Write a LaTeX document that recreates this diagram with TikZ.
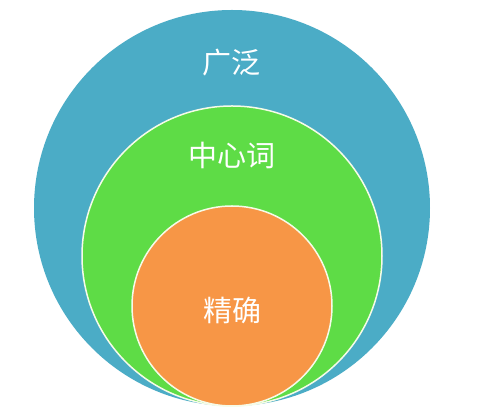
\documentclass[tikz,border=0pt]{standalone}
\usepackage{fontspec}
\usepackage{tikz}
\newfontfamily\cjk{Noto Sans CJK SC}
\definecolor{wideblue}{HTML}{4BACC6}
\definecolor{midgreen}{HTML}{5EDC46}
\definecolor{exactorange}{HTML}{F79646}
\definecolor{rimwhite}{HTML}{F6FBE8}
\begin{document}
\begin{tikzpicture}[x=1pt,y=1pt]
          \tikzstyle{ring} = [circle, inner sep=0pt, outer sep=0pt]
          \tikzstyle{word} = [text=white, font=\cjk\fontsize{29}{29}\selectfont]
        \useasboundingbox (0,0) rectangle (480,417);
        \fill[white] (0,0) rectangle (480,417);
        \node[ring, fill=wideblue, minimum size=396pt] (wide) at (232,209) {};
        \node[ring, fill=midgreen, draw=rimwhite, line width=1.5pt, minimum size=300pt] (mid) at (232,161) {};
        \node[ring, fill=exactorange, draw=rimwhite, line width=1.5pt, minimum size=200pt] (exact) at (232,111) {};
        \node[word] (wideword) at (231,354) {广泛};
        \node[word] (midword) at (232,262) {中心词};
        \node[word] (exactword) at (232,107) {精确};
      \end{tikzpicture}
\end{document}
